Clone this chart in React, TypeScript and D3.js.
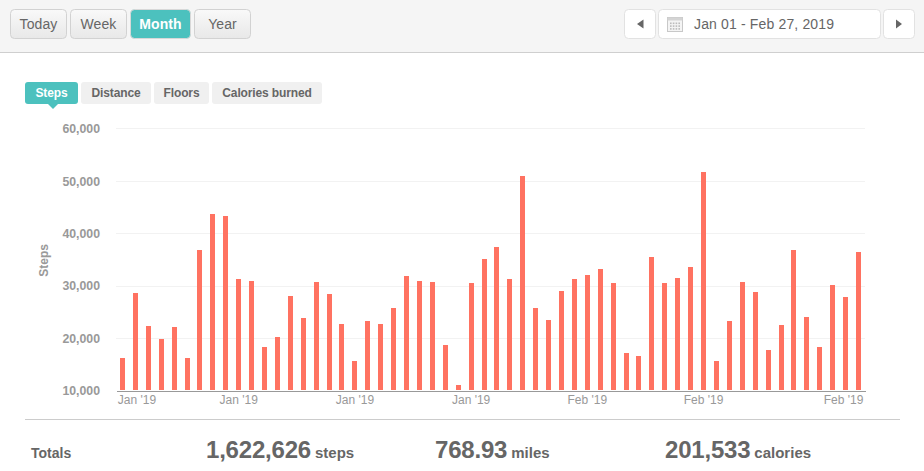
import React, { useRef, useEffect } from "react";
import * as d3 from "d3";

// Daily steps, Jan 01 - Feb 27 2019
const stepsValues = [
  16170, 28570, 22280, 19800, 22080, 16170, 36780, 43640, 43260, 31240,
  30860, 18270, 20180, 28000, 23800, 30670, 28380, 22660, 15600, 23230,
  22660, 25710, 31820, 30860, 30670, 18650, 11020, 30480, 35060, 37350,
  31240, 50900, 25710, 23420, 28950, 31240, 32000, 33150, 30480, 17120,
  16550, 35440, 30480, 31430, 33530, 51660, 15600, 23230, 30670, 28760,
  17700, 22470, 36780, 24000, 18270, 30100, 27810, 36400,
];
const days = d3.timeDay.range(new Date(2019, 0, 1), new Date(2019, 1, 28));
const xTickDays = [0, 9, 18, 27, 36, 45, 57];
const yTicks = [10000, 20000, 30000, 40000, 50000, 60000];
const rangeButtons = ["Today", "Week", "Month", "Year"];
const activeRange = "Month";
const metricTabs = ["Steps", "Distance", "Floors", "Calories burned"];
const activeTab = "Steps";
const dateRangeLabel = "Jan 01 - Feb 27, 2019";
const totals = [
  { value: "1,622,626", unit: "steps" },
  { value: "768.93", unit: "miles" },
  { value: "201,533", unit: "calories" },
];

const FONT = "'Liberation Sans', Arial, sans-serif";
const TEAL = "#4cc1be";

const buttonBoxes = [
  [10, 57],
  [70, 57],
  [130, 61],
  [194, 57],
];
const tabBoxes = [
  [25, 53],
  [81, 70],
  [154, 55],
  [212, 110],
];
const totalsX = [206, 435, 665];

const App: React.FC = () => {
  const ref = useRef<SVGGElement>(null);

  useEffect(() => {
    if (!ref.current) return;
    const margin = { top: 128.85, right: 59, bottom: 80.15, left: 116 };
    const width = 924 - margin.left - margin.right;
    const height = 471 - margin.top - margin.bottom;

    const chart = d3.select(ref.current);
    chart.selectAll("*").remove(); // Clear previous content
    chart.attr("transform", `translate(${margin.left},${margin.top})`);

    const x = d3
      .scaleBand<number>()
      .domain(days.map((_, i) => i))
      .range([0, width])
      .paddingInner(0.61)
      .paddingOuter(0.305);
    const y = d3.scaleLinear().domain([10000, 60000]).range([height, 0]);

    // Snap to whole pixels in page coordinates
    const snapTop = (v: number) => Math.floor(y(v) + margin.top) - margin.top;

    // Grid
    chart
      .append("g")
      .selectAll("line")
      .data(yTicks.filter((t) => t > 10000))
      .enter()
      .append("line")
      .attr("x1", 0)
      .attr("x2", width)
      .attr("y1", (d) => y(d))
      .attr("y2", (d) => y(d))
      .attr("stroke", "#f2f2f2")
      .attr("shape-rendering", "crispEdges");

    // Bars
    chart
      .append("g")
      .selectAll("rect")
      .data(stepsValues)
      .enter()
      .append("rect")
      .attr("x", (_, i) => Math.round((x(i) || 0) + margin.left) - margin.left)
      .attr("y", (d) => snapTop(d))
      .attr("width", 5)
      .attr("height", (d) => 390 - margin.top - snapTop(d))
      .attr("fill", "#ff7261")
      .attr("shape-rendering", "crispEdges");

    // Y axis
    const yAxis = chart
      .append("g")
      .call(
        d3
          .axisLeft(y)
          .tickValues(yTicks)
          .tickSize(0)
          .tickPadding(16)
          .tickFormat((d) => d3.format(",")(d as number))
      );
    yAxis.select(".domain").remove();
    yAxis
      .selectAll("text")
      .attr("fill", "#999")
      .style("font-family", FONT)
      .style("font-weight", "bold")
      .style("font-size", "12.3px");

    // X axis, labels are kept inside the plot at both ends
    const xAxis = chart
      .append("g")
      .attr("transform", `translate(0, ${height})`)
      .call(
        d3
          .axisBottom(x)
          .tickValues(xTickDays)
          .tickSize(0)
          .tickPadding(5)
          .tickFormat((d) => d3.timeFormat("%b '%y")(days[d as number]))
      );
    xAxis
      .select(".domain")
      .attr("stroke", "#999")
      .attr("shape-rendering", "crispEdges");
    xAxis.selectAll<SVGGElement, number>(".tick").attr("transform", (d) => {
      const cx = (x(d) || 0) + x.bandwidth() / 2;
      return `translate(${Math.min(Math.max(cx, 21), width - 21.5)},0)`;
    });
    xAxis
      .selectAll("text")
      .attr("fill", "#999")
      .style("font-family", FONT)
      .style("font-size", "12px");

    chart
      .append("text")
      .attr("transform", `translate(${48 - margin.left},${height / 2 + 0.5}) rotate(-90)`)
      .attr("text-anchor", "middle")
      .attr("fill", "#999")
      .style("font-family", FONT)
      .style("font-weight", "bold")
      .style("font-size", "12px")
      .text("Steps");
  }, []);

  return (
    <svg
      width={924}
      height={471}
      style={{ position: "absolute", left: 0, top: 0, display: "block", fontFamily: FONT }}
    >
      <defs>
        <linearGradient id="btn" x1="0" y1="0" x2="0" y2="1">
          <stop offset="0" stopColor="#f9f9f9" />
          <stop offset="1" stopColor="#e8e8e8" />
        </linearGradient>
      </defs>
      <rect width={924} height={471} fill="#fff" />
      <rect width={924} height={52} fill="#f5f5f5" />
      <rect y={52} width={924} height={1} fill="#cfcfcf" />

      {rangeButtons.map((label, i) => {
        const [bx, bw] = buttonBoxes[i];
        const active = label === activeRange;
        return (
          <g key={label}>
            <rect
              x={bx + 0.5}
              y={9.5}
              width={bw - 1}
              height={29}
              rx={4}
              fill={active ? TEAL : "url(#btn)"}
              stroke={active ? "#d8d8d8" : "#d2d2d2"}
            />
            <text
              x={bx + bw / 2}
              y={29}
              textAnchor="middle"
              fontSize={14}
              letterSpacing={0.1}
              fontWeight={active ? "bold" : "normal"}
              fill={active ? "#fff" : "#666"}
            >
              {label}
            </text>
          </g>
        );
      })}

      {/* Date navigator */}
      <rect x={624.5} y={9.5} width={31} height={29} rx={4} fill="#fff" stroke="#e2e2e2" />
      <path d="M643.5 19.5 L643.5 28.5 L637 24 Z" fill="#666" />
      <rect x={658.5} y={9.5} width={222} height={29} rx={4} fill="#fff" stroke="#e2e2e2" />
      <rect x={667.5} y={17.5} width={15} height={14} fill="#f4f4f4" stroke="#c8c8c8" />
      <rect x={667.5} y={17.5} width={15} height={3} fill="#d4d4d4" />
      {[0, 1, 2].map((r) =>
        [0, 1, 2, 3].map((c) => (
          <rect key={`${r}-${c}`} x={670 + c * 2.8} y={22.5 + r * 2.8} width={1.6} height={1.6} fill="#bbb" />
        ))
      )}
      <text x={694} y={29} fontSize={14} letterSpacing={0.15} fill="#666">
        {dateRangeLabel}
      </text>
      <rect x={883.5} y={9.5} width={31} height={29} rx={4} fill="#fff" stroke="#e2e2e2" />
      <path d="M896 19.5 L896 28.5 L902 24 Z" fill="#666" />

      {metricTabs.map((label, i) => {
        const [tx, tw] = tabBoxes[i];
        const active = label === activeTab;
        return (
          <g key={label}>
            <rect x={tx} y={82} width={tw} height={22} rx={3} fill={active ? TEAL : "#f0f0f0"} />
            {active && <path d={`M${tx + 23} 104 L${tx + 33} 104 L${tx + 28} 109 Z`} fill={TEAL} />}
            <text
              x={tx + tw / 2}
              y={97}
              textAnchor="middle"
              fontSize={12}
              letterSpacing={-0.13}
              fontWeight="bold"
              fill={active ? "#fff" : "#666"}
            >
              {label}
            </text>
          </g>
        );
      })}

      <g ref={ref} />

      <rect x={25} y={419} width={875} height={1} fill="#ccc" />
      <text x={31} y={458} fontSize={14} fontWeight="bold" fill="#666">
        Totals
      </text>
      {totals.map((t, i) => (
        <text key={t.unit} x={totalsX[i]} y={458} fontWeight="bold" fill="#666">
          <tspan fontSize={24} letterSpacing={-0.2}>
            {t.value}
          </tspan>
          <tspan fontSize={15} dx={4}>
            {t.unit}
          </tspan>
        </text>
      ))}
    </svg>
  );
};

export default App;
